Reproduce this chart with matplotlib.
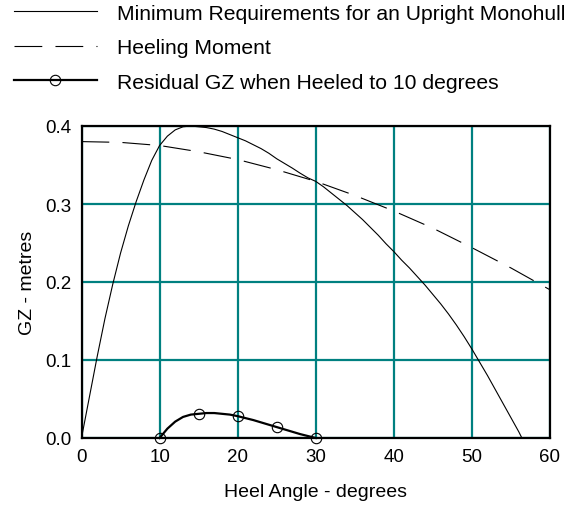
import matplotlib
matplotlib.use("Agg")
import matplotlib.pyplot as plt
from matplotlib.lines import Line2D
from matplotlib.legend_handler import HandlerLine2D

plt.rcParams['font.family'] = ['Liberation Sans', 'DejaVu Sans']
plt.rcParams['lines.scale_dashes'] = False

# GZ curve: minimum requirements for an upright monohull
gz_angle = [0, 1, 2, 3, 4, 5, 6, 7, 8, 9, 10, 11, 12, 13, 14, 15, 16, 17, 18, 19, 20,
            21, 22, 23, 24, 25, 26, 27, 28, 29, 30, 31, 32, 33, 34, 35, 36, 37, 38,
            39, 40, 41, 42, 43, 44, 45, 46, 47, 48, 49, 50, 51, 52, 53, 54, 55, 56,
            56.4]
gz_value = [0.0, 0.052, 0.104, 0.153, 0.197, 0.237, 0.272, 0.303, 0.331, 0.356, 0.375,
            0.387, 0.395, 0.399, 0.400, 0.399, 0.398, 0.396, 0.393, 0.389, 0.385,
            0.381, 0.376, 0.371, 0.365, 0.358, 0.352, 0.346, 0.3395, 0.3335, 0.329,
            0.322, 0.314, 0.306, 0.298, 0.289, 0.280, 0.270, 0.260,
            0.249, 0.239, 0.228, 0.218, 0.207, 0.196, 0.184, 0.172, 0.159, 0.145,
            0.130, 0.114, 0.097, 0.080, 0.062, 0.044, 0.026, 0.008, 0.0]

# Heeling moment
heel_angle = [0, 5, 10, 15, 20, 25, 30, 35, 40, 45, 50, 55, 60]
heel_value = [0.380, 0.379, 0.375, 0.367, 0.357, 0.344, 0.329, 0.311, 0.291,
              0.269, 0.244, 0.218, 0.190]

# Residual GZ when heeled to 10 degrees
res_angle = [10, 11, 12, 13, 14, 15, 16, 17, 18, 19, 20, 22, 24, 25, 26, 28, 30]
res_value = [0.0, 0.012, 0.021, 0.027, 0.030, 0.031, 0.032, 0.032, 0.031, 0.030,
             0.028, 0.023, 0.017, 0.014, 0.011, 0.005, 0.0]
res_marker_angle = [10, 15, 20, 25, 30]

labels = ["Minimum Requirements for an Upright Monohull",
          "Heeling Moment",
          "Residual GZ when Heeled to 10 degrees"]
x_ticks = [0, 10, 20, 30, 40, 50, 60]
y_ticks = [0.0, 0.1, 0.2, 0.3, 0.4]

fig = plt.figure(figsize=(5.73, 5.06), dpi=100)
ax = fig.add_axes([81.5 / 573, 1 - 439 / 506, (550 - 81.5) / 573, (439 - 127) / 506])

teal = '#008080'
ax.grid(True, color=teal, linewidth=1.6)
ax.set_axisbelow(True)

l1, = ax.plot(gz_angle, gz_value, color='black', linewidth=0.8, clip_on=False)
l2, = ax.plot(heel_angle, heel_value, color='black', linewidth=0.8,
              dashes=(20, 9.5))
mk_idx = [res_angle.index(a) for a in res_marker_angle]
l3, = ax.plot(res_angle, res_value, color='black', linewidth=1.6,
              marker='o', markersize=7.5, markerfacecolor='none',
              markeredgewidth=0.8, markevery=mk_idx, clip_on=False, zorder=5)

ax.set_xlim(0, 60)
ax.set_ylim(0, 0.4)
ax.set_xticks(x_ticks)
ax.set_yticks(y_ticks)
ax.set_xticklabels([str(v) for v in x_ticks])
ax.set_yticklabels([f"{v:.1f}" for v in y_ticks])
ax.tick_params(length=0, labelsize=13.5, pad=7)
for s in ax.spines.values():
    s.set_linewidth(1.6)
    s.set_color('black')
    s.set_zorder(6)

ax.set_xlabel("Heel Angle - degrees", fontsize=14, labelpad=13)
ax.set_ylabel("GZ - metres", fontsize=14, labelpad=7)


class MidMarker(HandlerLine2D):
    def create_artists(self, legend, orig_handle, xdescent, ydescent, width,
                       height, fontsize, trans):
        y = height / 2 - ydescent
        line = Line2D([-xdescent, -xdescent + width], [y, y], color='black',
                      linewidth=1.6, transform=trans)
        mk = Line2D([-xdescent + width / 2], [y], color='black', marker='o',
                    markersize=7.5, markerfacecolor='none', markeredgewidth=0.8,
                    linestyle='none', transform=trans)
        return [line, mk]


h3 = Line2D([], [], color='black', linewidth=1.6)
leg = fig.legend([l1, l2, h3], labels, loc='upper left',
                 bbox_to_anchor=(14 / 573, 1 - 4.5 / 506), frameon=False,
                 fontsize=15.2, handlelength=3.93, handletextpad=0.95,
                 labelspacing=0.74, borderpad=0, borderaxespad=0,
                 handler_map={h3: MidMarker()})

fig.savefig("out.png", dpi=100)
